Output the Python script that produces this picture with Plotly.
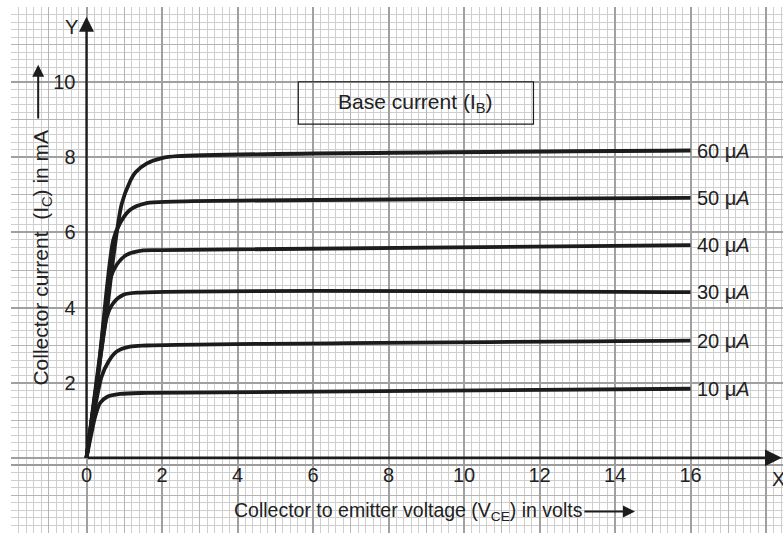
import plotly.graph_objects as go

# ---- data ----
series_names = ["10 μ<i>A</i>", "20 μ<i>A</i>", "30 μ<i>A</i>", "40 μ<i>A</i>", "50 μ<i>A</i>", "60 μ<i>A</i>"]

v_10 = [0, 0.12, 0.23, 0.36, 0.54, 0.89, 1.6, 16]
i_10 = [0, 0.6, 1.1, 1.46, 1.62, 1.70, 1.73, 1.84]

v_20 = [0, 0.2, 0.4, 0.58, 0.8, 1.15, 1.6, 16]
i_20 = [0, 1.2, 2.16, 2.56, 2.83, 2.96, 2.99, 3.12]

v_30 = [0, 0.25, 0.54, 0.71, 0.98, 1.42, 16]
i_30 = [0, 1.75, 3.76, 4.12, 4.34, 4.40, 4.41]

v_40 = [0, 0.3, 0.62, 0.8, 1.06, 1.5, 2.0, 16]
i_40 = [0, 2.2, 4.74, 5.14, 5.40, 5.52, 5.53, 5.66]

v_50 = [0, 0.35, 0.71, 0.89, 1.15, 1.59, 2.3, 16]
i_50 = [0, 2.7, 5.80, 6.25, 6.60, 6.78, 6.82, 6.92]

v_60 = [0, 0.3, 0.54, 0.72, 0.93, 1.15, 1.3, 1.6, 2.0, 2.4, 16]
i_60 = [0, 2.2, 3.9, 5.4, 6.75, 7.35, 7.6, 7.84, 7.98, 8.03, 8.18]

x_tickvals = [-2, 0, 2, 4, 6, 8, 10, 12, 14, 16, 18]
x_ticktext = ["", "0", "2", "4", "6", "8", "10", "12", "14", "16", ""]
y_tickvals = [-2, 0, 2, 4, 6, 8, 10, 12]
y_ticktext = ["", "", "2", "4", "6", "8", "10", ""]

x_title = "Collector to emitter voltage (V<sub>CE</sub>) in volts"
y_title = "Collector current&nbsp; (I<sub>C</sub>) in mA"
box_title = "Base current (I<sub>B</sub>)"

# ---- styling ----
FONT = "Liberation Sans, Arial, Helvetica, sans-serif"
INK = "#1c1c1c"
TXT = "#222222"
X_RANGE = [-2, 18.45]
Y_RANGE = [-2, 12]

fig = go.Figure()

curves = [(v_10, i_10), (v_20, i_20), (v_30, i_30), (v_40, i_40), (v_50, i_50), (v_60, i_60)]
for (vx, iy), name in zip(curves, series_names):
    fig.add_trace(go.Scatter(x=vx, y=iy, mode="lines", name=name,
                             line=dict(color=INK, width=3.8, shape="spline", smoothing=0.8),
                             showlegend=False, hoverinfo="skip"))
    fig.add_annotation(x=vx[-1], y=iy[-1], text=name, showarrow=False,
                       xanchor="left", yanchor="middle", xshift=4,
                       font=dict(family=FONT, size=20, color=TXT))

# dummy trace to bind overlay axes
fig.add_trace(go.Scatter(x=[], y=[], xaxis="x2", yaxis="y2", showlegend=False))

fig.update_layout(
    width=783, height=533,
    margin=dict(l=11, r=0, t=7, b=0),
    paper_bgcolor="white", plot_bgcolor="white",
    showlegend=False,
    xaxis=dict(range=X_RANGE, dtick=1, tick0=0, showgrid=True, gridcolor="#b4b4b4", gridwidth=1.2,
               minor=dict(dtick=0.2, tick0=0, showgrid=True, gridcolor="#cfcfcf", gridwidth=1),
               showticklabels=False, zeroline=False, showline=False, ticks=""),
    yaxis=dict(range=Y_RANGE, dtick=1, tick0=0, showgrid=True, gridcolor="#b4b4b4", gridwidth=1.2,
               minor=dict(dtick=0.2, tick0=0, showgrid=True, gridcolor="#cfcfcf", gridwidth=1),
               showticklabels=False, zeroline=False, showline=False, ticks=""),
    xaxis2=dict(range=X_RANGE, overlaying="x", anchor="free", position=(0 - Y_RANGE[0]) / (Y_RANGE[1] - Y_RANGE[0]),
                side="bottom", tickvals=x_tickvals, ticktext=x_ticktext,
                showgrid=True, gridcolor="#a0a0a0", gridwidth=2, zeroline=False, showline=False,
                ticks="", ticklabelstandoff=3, tickfont=dict(family=FONT, size=20, color=TXT)),
    yaxis2=dict(range=Y_RANGE, overlaying="y", anchor="free", position=(0 - X_RANGE[0]) / (X_RANGE[1] - X_RANGE[0]),
                side="left", tickvals=y_tickvals, ticktext=y_ticktext,
                showgrid=True, gridcolor="#a0a0a0", gridwidth=2, zeroline=False, showline=False,
                ticks="", ticklabelstandoff=11, tickfont=dict(family=FONT, size=20, color=TXT)),
)

# bottom border of upper graph sheet
fig.add_shape(type="line", x0=X_RANGE[0], x1=X_RANGE[1], y0=-0.19, y1=-0.19, xref="x", yref="y",
              line=dict(color="#9c9c9c", width=2))

# axes with arrows
fig.add_annotation(x=0, y=11.74, ax=0, ay=0, xref="x", yref="y", axref="x", ayref="y",
                   text="", showarrow=True, arrowhead=2, arrowsize=1.3, arrowwidth=2.3, arrowcolor=INK)
fig.add_annotation(x=18.42, y=0, ax=0, ay=0, xref="x", yref="y", axref="x", ayref="y",
                   text="", showarrow=True, arrowhead=2, arrowsize=1.3, arrowwidth=2.6, arrowcolor=INK)
fig.add_annotation(x=-0.39, y=11.48, text="Y", showarrow=False, xref="x", yref="y",
                   font=dict(family=FONT, size=20, color=TXT))
fig.add_annotation(x=18.1, y=-0.55, text="X", showarrow=False, xref="x", yref="y", xanchor="left",
                   font=dict(family=FONT, size=20, color=TXT))

# axis titles
fig.add_annotation(x=-1.19, y=5.32, text=y_title, textangle=-90, showarrow=False, xref="x", yref="y",
                   font=dict(family=FONT, size=21, color=TXT))
fig.add_annotation(x=-1.28, y=10.46, ax=-1.28, ay=8.99, xref="x", yref="y", axref="x", ayref="y",
                   text="", showarrow=True, arrowhead=2, arrowsize=1.2, arrowwidth=2, arrowcolor=INK)
fig.add_annotation(x=8.54, y=-1.43, text=x_title, showarrow=False, xref="x", yref="y",
                   font=dict(family=FONT, size=19.5, color=TXT))
fig.add_annotation(x=14.53, y=-1.43, ax=13.15, ay=-1.43, xref="x", yref="y", axref="x", ayref="y",
                   text="", showarrow=True, arrowhead=2, arrowsize=1.2, arrowwidth=2, arrowcolor=INK)

# base-current box
fig.add_shape(type="rect", x0=5.61, x1=11.84, y0=8.88, y1=10.01, xref="x", yref="y",
              line=dict(color=INK, width=1.2))
fig.add_annotation(x=8.72, y=9.45, text=box_title, showarrow=False, xref="x", yref="y",
                   font=dict(family=FONT, size=21, color=TXT))

fig.write_html("out.html", config={"displayModeBar": False},
               post_script="document.body.style.margin='0px';document.body.style.overflow='hidden';")
